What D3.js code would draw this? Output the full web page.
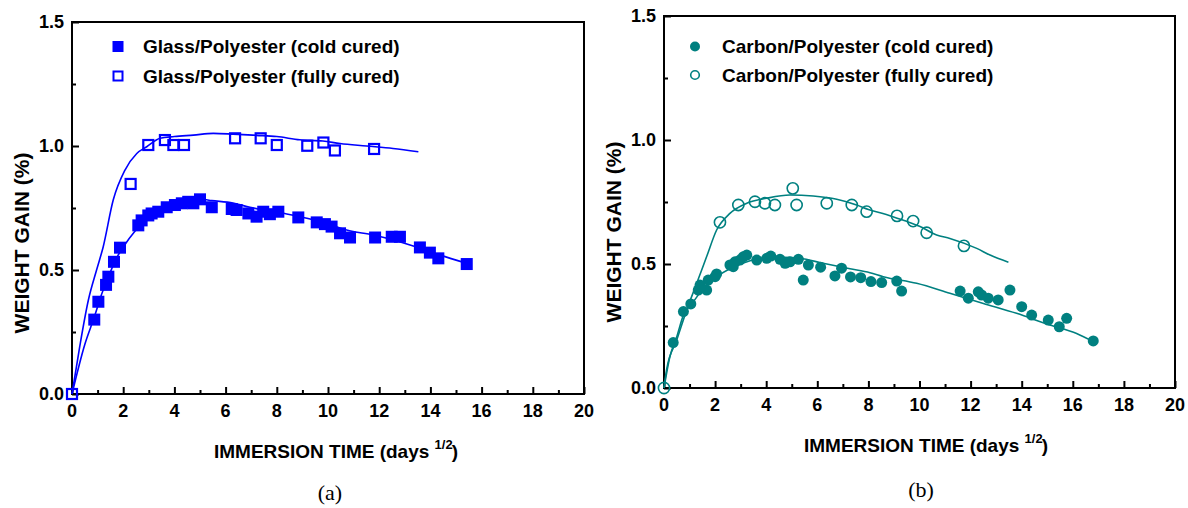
<!DOCTYPE html>
<html><head><meta charset="utf-8">
<script src="https://cdn.jsdelivr.net/npm/d3@7"></script>
<style>body{margin:0;background:#fff}svg{display:block}</style>
</head><body>
<svg id="c" width="1188" height="508"></svg>
<script>
// ---------- data ----------
const xTicks = [0,2,4,6,8,10,12,14,16,18,20];
const yTicks = [0.0,0.5,1.0,1.5];

const glassColdT = [0.87,1.03,1.33,1.42,1.64,1.875,2.59,2.72,2.98,3.11,3.37,3.70,4.02,4.29,4.54,4.74,5.0,5.46,6.24,6.43,6.89,7.21,7.47,7.73,8.06,8.84,9.56,9.88,10.14,10.47,10.86,11.84,12.49,12.81,13.59,13.98,14.31,15.42];
const glassColdW = [0.30,0.372,0.44,0.473,0.533,0.59,0.68,0.70,0.72,0.728,0.735,0.753,0.762,0.769,0.775,0.769,0.785,0.753,0.746,0.742,0.728,0.715,0.735,0.725,0.735,0.712,0.692,0.685,0.675,0.648,0.631,0.631,0.634,0.634,0.591,0.57,0.547,0.524];
const glassFullT = [0,2.29,2.98,3.63,3.96,4.375,6.37,7.37,8.0,9.19,9.82,10.27,11.8];
const glassFullW = [0,0.847,1.004,1.024,1.004,1.004,1.031,1.031,1.004,1.001,1.014,0.982,0.988];
const glassColdFitT = [0,0.5,0.87,1.15,1.45,1.75,2.05,2.45,2.9,3.4,3.9,4.4,5.0,5.46,6.29,6.95,7.6,8.39,8.9,9.95,10.73,11.77,12.55,13.33,14.375,15.42];
const glassColdFitW = [0,0.2,0.31,0.4,0.48,0.55,0.6,0.655,0.705,0.738,0.76,0.775,0.786,0.78,0.77,0.753,0.74,0.726,0.715,0.688,0.661,0.641,0.621,0.597,0.56,0.527];
const glassFullFitT = [0,0.3,0.64,0.96,1.22,1.61,2.07,2.53,2.92,3.44,4.0,4.74,5.52,6.29,7.2,8.0,8.9,9.8,10.47,11.51,12.54,13.53];
const glassFullFitW = [0,0.19,0.379,0.5,0.594,0.782,0.903,0.97,0.997,1.031,1.038,1.044,1.051,1.048,1.043,1.038,1.025,1.02,1.01,1.0,0.99,0.977];

const carbonColdT = [0.36,0.76,1.05,1.34,1.41,1.67,1.73,2.0,2.06,2.58,2.71,2.78,2.97,3.10,3.24,3.63,4.02,4.18,4.54,4.74,4.93,5.26,5.45,5.65,6.13,6.69,6.95,7.30,7.70,8.10,8.52,9.11,9.30,11.59,11.91,12.30,12.43,12.69,13.08,13.54,14.0,14.39,15.04,15.47,15.76,16.8];
const carbonColdW = [0.183,0.308,0.339,0.395,0.415,0.395,0.435,0.449,0.46,0.496,0.489,0.509,0.516,0.529,0.536,0.516,0.523,0.532,0.519,0.503,0.509,0.519,0.435,0.496,0.487,0.452,0.483,0.448,0.445,0.429,0.425,0.431,0.391,0.391,0.362,0.388,0.375,0.362,0.355,0.395,0.328,0.294,0.274,0.247,0.281,0.19];
const carbonFullT = [0,2.19,2.91,3.56,3.95,4.34,5.04,5.19,6.37,7.35,7.93,9.12,9.75,10.28,11.74];
const carbonFullW = [0,0.668,0.738,0.751,0.745,0.738,0.805,0.738,0.745,0.738,0.711,0.694,0.673,0.626,0.573];
const carbonColdFitT = [0,0.23,0.5,0.76,1.15,1.54,2.06,2.71,3.37,4.02,4.67,5.32,6.23,7.28,8.06,8.58,9.89,11.19,12.5,13.8,15.1,16.15,16.8];
const carbonColdFitW = [0,0.126,0.207,0.294,0.348,0.402,0.449,0.487,0.513,0.527,0.527,0.523,0.503,0.481,0.465,0.449,0.422,0.382,0.341,0.301,0.254,0.22,0.187];
const carbonFullFitT = [0,0.1,0.5,0.89,1.28,1.67,2.06,2.58,3.24,4.02,4.93,5.84,6.76,7.54,8.0,8.7,9.4,10.0,10.67,11.19,12.24,12.76,13.48];
const carbonFullFitW = [0,0.073,0.194,0.315,0.422,0.53,0.637,0.704,0.745,0.765,0.778,0.774,0.761,0.738,0.72,0.70,0.675,0.652,0.617,0.603,0.563,0.536,0.507];

const zip = (a,b) => a.map((v,i)=>[v,b[i]]);

const svg = d3.select("#c");
const FONT = "'Liberation Sans', Arial, sans-serif";

function panel(o){
  const x = d3.scaleLinear().domain([0,20]).range([o.x0,o.x1]);
  const y = d3.scaleLinear().domain([0,1.5]).range([o.y0,o.y1]);
  const g = svg.append("g");
  // frame
  g.append("rect").attr("x",o.x0).attr("y",o.y1).attr("width",o.x1-o.x0).attr("height",o.y0-o.y1)
    .attr("fill","none").attr("stroke","#000").attr("stroke-width",2);
  // x axis ticks (inward)
  const xa = d3.axisBottom(x).tickValues(d3.range(0,21,1)).tickSize(0).tickFormat("");
  const gx = g.append("g").attr("transform",`translate(0,${o.y0})`).call(xa);
  gx.select(".domain").remove();
  gx.selectAll(".tick line").attr("y2",d=>d%2===0?-7:-4).attr("stroke","#000").attr("stroke-width",2);
  g.append("g").selectAll("text").data(xTicks).join("text")
    .attr("x",d=>x(d)).attr("y",o.y0+23).attr("text-anchor","middle")
    .attr("font-family",FONT).attr("font-weight","bold").attr("font-size",18).text(d=>d);
  // y axis ticks
  const ya = d3.axisLeft(y).tickValues(d3.range(0,1.51,0.25)).tickSize(0).tickFormat("");
  const gy = g.append("g").attr("transform",`translate(${o.x0},0)`).call(ya);
  gy.select(".domain").remove();
  gy.selectAll(".tick line").attr("x2",(d,i)=>i%2===0?7:4).attr("stroke","#000").attr("stroke-width",2);
  g.append("g").selectAll("text").data(yTicks).join("text")
    .attr("x",o.x0-8).attr("y",d=>y(d)).attr("dy","0.36em").attr("text-anchor","end")
    .attr("font-family",FONT).attr("font-weight","bold").attr("font-size",18).text(d=>d.toFixed(1));
  // axis titles
  g.append("text").attr("transform",`translate(${o.ytx},${o.yty}) rotate(-90)`)
    .attr("text-anchor","middle").attr("dy","0.36em")
    .attr("font-family",FONT).attr("font-weight","bold").attr("font-size",21).text("WEIGHT GAIN (%)");
  const xt = g.append("text").attr("x",o.xtx).attr("y",o.xty).attr("text-anchor","middle")
    .attr("font-family",FONT).attr("font-weight","bold").attr("font-size",19);
  xt.append("tspan").text("IMMERSION TIME (days ");
  xt.append("tspan").attr("font-size",13).attr("dy",-9).text("1/2");
  xt.append("tspan").attr("dy",9).attr("dx",-1).text(")");
  // caption
  g.append("text").attr("x",o.capx).attr("y",o.capy).attr("text-anchor","middle")
    .attr("font-family","'Liberation Serif','Times New Roman',serif").attr("font-size",22).text(o.cap);

  const line = d3.line().x(d=>x(d[0])).y(d=>y(d[1])).curve(d3.curveMonotoneX);
  const col = o.color;
  g.append("path").attr("d",line(o.fitFull)).attr("fill","none").attr("stroke",col).attr("stroke-width",1.6);
  g.append("path").attr("d",line(o.fitCold)).attr("fill","none").attr("stroke",col).attr("stroke-width",1.6);

  if(o.shape==="square"){
    g.append("g").selectAll("rect").data(o.cold).join("rect")
      .attr("x",d=>x(d[0])-6).attr("y",d=>y(d[1])-6).attr("width",12).attr("height",12).attr("fill",col);
    g.append("g").selectAll("rect").data(o.full).join("rect")
      .attr("x",d=>x(d[0])-5).attr("y",d=>y(d[1])-5).attr("width",10).attr("height",10)
      .attr("fill","none").attr("stroke",col).attr("stroke-width",2.2);
  } else {
    g.append("g").selectAll("circle").data(o.cold).join("circle")
      .attr("cx",d=>x(d[0])).attr("cy",d=>y(d[1])).attr("r",5.5).attr("fill",col);
    g.append("g").selectAll("circle").data(o.full).join("circle")
      .attr("cx",d=>x(d[0])).attr("cy",d=>y(d[1])).attr("r",5.6)
      .attr("fill","none").attr("stroke",col).attr("stroke-width",1.6);
  }
  // legend
  const L = g.append("g");
  if(o.shape==="square"){
    L.append("rect").attr("x",o.lx-5.5).attr("y",o.ly1-5.5).attr("width",11).attr("height",11).attr("fill",col);
    L.append("rect").attr("x",o.lx-4.5).attr("y",o.ly2-4.5).attr("width",9).attr("height",9)
      .attr("fill","none").attr("stroke",col).attr("stroke-width",2);
  } else {
    L.append("circle").attr("cx",o.lx).attr("cy",o.ly1).attr("r",5).attr("fill",col);
    L.append("circle").attr("cx",o.lx).attr("cy",o.ly2).attr("r",4.3)
      .attr("fill","none").attr("stroke",col).attr("stroke-width",1.6);
  }
  [[o.ly1,o.names[0]],[o.ly2,o.names[1]]].forEach(([yy,t])=>{
    L.append("text").attr("x",o.ltx).attr("y",yy).attr("dy","0.36em")
      .attr("font-family",FONT).attr("font-weight","bold").attr("font-size",19).text(t);
  });
}

panel({x0:72,x1:584,y0:394,y1:22,color:"#0000ff",shape:"square",
  cold:zip(glassColdT,glassColdW),full:zip(glassFullT,glassFullW),
  fitCold:zip(glassColdFitT,glassColdFitW),fitFull:zip(glassFullFitT,glassFullFitW),
  ytx:21,yty:243,xtx:336,xty:458,capx:330,capy:500,cap:"(a)",
  lx:118,ly1:46.5,ly2:76,ltx:143,names:["Glass/Polyester (cold cured)","Glass/Polyester (fully cured)"]});

panel({x0:664,x1:1175,y0:388,y1:16,color:"#008080",shape:"circle",
  cold:zip(carbonColdT,carbonColdW),full:zip(carbonFullT,carbonFullW),
  fitCold:zip(carbonColdFitT,carbonColdFitW),fitFull:zip(carbonFullFitT,carbonFullFitW),
  ytx:613,yty:232,xtx:926,xty:452,capx:921,capy:497,cap:"(b)",
  lx:695,ly1:46.5,ly2:75,ltx:722,names:["Carbon/Polyester (cold cured)","Carbon/Polyester (fully cured)"]});
</script>
</body></html>
